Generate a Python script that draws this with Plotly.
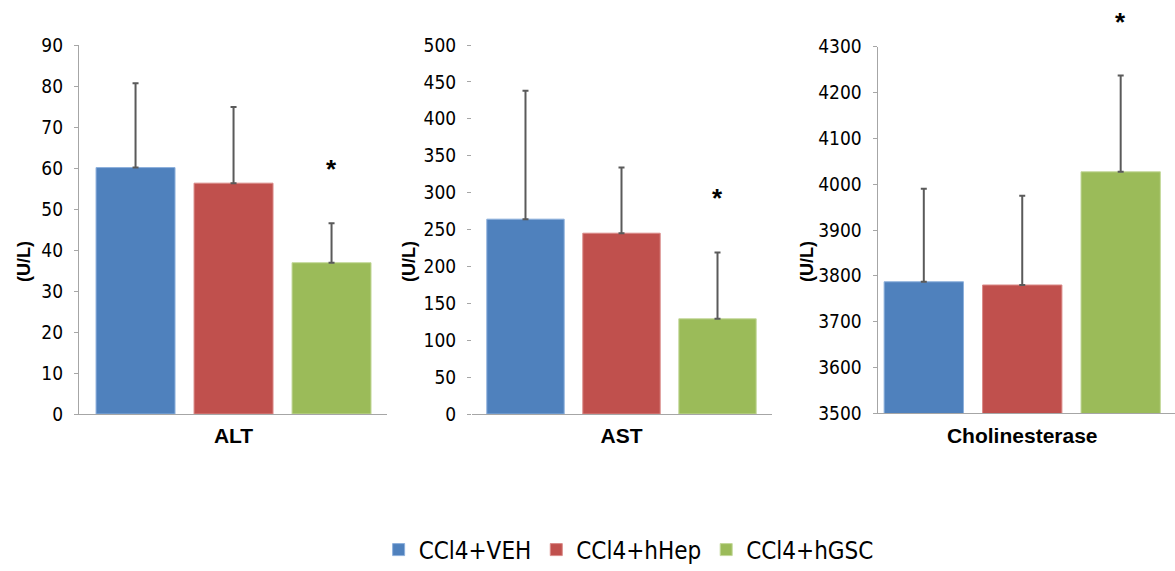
import plotly.graph_objects as go

# ---- data ----
groups = ["CCl4+VEH", "CCl4+hHep", "CCl4+hGSC"]
colors = ["#4F81BD", "#C0504D", "#9BBB59"]
edge_colors = ["#8DB0DC", "#DA8A88", "#C3D89A"]

panels = ["ALT", "AST", "Cholinesterase"]
alt_mean = [60.1, 56.3, 36.9]
alt_err = [20.6, 18.6, 9.6]
ast_mean = [264, 245, 129]
ast_err = [174, 89, 90]
che_mean = [3787, 3780, 4027]
che_err = [203, 195, 210]
significant = [[False, False, True], [False, False, True], [False, False, True]]

y_ranges = [[0, 90], [0, 500], [3500, 4300]]
y_dticks = [10, 50, 100]
y_title = "(U/L)"

means = [alt_mean, ast_mean, che_mean]
errs = [alt_err, ast_err, che_err]

W, H = 1175, 571
BARGAP = 0.045
GROUPGAP = 0.194

# pixel layout of the three panels
x_domains_px = [(79, 387), (472, 772), (877.7, 1175)]
y_domains_px = [(45, 414), (45, 414), (46.7, 413.3)]
x_ranges = [[-0.502, 0.4985], [-0.4957, 0.499], [-0.4674, 0.494]]
ytitle_x_px = [24, 409, 807]

NARROW = "Liberation Sans Narrow, DejaVu Sans Condensed, Arial Narrow, sans-serif"
ARIAL = "Liberation Sans, Arial, sans-serif"

fig = go.Figure()

for p, name in enumerate(panels):
    ax = "" if p == 0 else str(p + 1)
    for g in range(3):
        fig.add_trace(go.Bar(
            x=[name], y=[means[p][g]], name=groups[g],
            legendgroup=groups[g], showlegend=(p == 0),
            marker=dict(color=colors[g], line=dict(color=edge_colors[g], width=1)),
            error_y=dict(type="data", symmetric=False, array=[errs[p][g]],
                         arrayminus=[0], color="#5A5A5A", thickness=2, width=3),
            xaxis="x" + ax, yaxis="y" + ax,
        ))

layout = dict(
    width=W, height=H, barmode="group", bargap=BARGAP, bargroupgap=GROUPGAP,
    margin=dict(l=0, r=0, t=0, b=0, autoexpand=False),
    plot_bgcolor="white", paper_bgcolor="white",
    legend=dict(orientation="h", x=0.535, xanchor="center", y=1 - 550 / H,
                yanchor="middle", font=dict(family=NARROW, size=24, color="black"),
                itemwidth=30, traceorder="normal"),
    annotations=[],
)

slot = (1 - BARGAP) / 3
for p, name in enumerate(panels):
    ax = "" if p == 0 else str(p + 1)
    x0, x1 = x_domains_px[p]
    yt, yb = y_domains_px[p]
    layout["xaxis" + ax] = dict(
        domain=[x0 / W, min(x1 / W, 1)], anchor="y" + ax, range=x_ranges[p],
        showline=True, linecolor="#A6A6A6", linewidth=1.3,
        showgrid=False, zeroline=False, ticks="",
        tickfont=dict(family=ARIAL, size=21, color="black", weight="bold"),
        ticklabelstandoff=3,
    )
    layout["yaxis" + ax] = dict(
        domain=[1 - yb / H, 1 - yt / H], anchor="x" + ax, range=y_ranges[p],
        dtick=y_dticks[p], showline=(p != 1), linecolor="#A6A6A6", linewidth=1.3,
        showgrid=False, zeroline=False, ticks="outside", ticklen=4,
        tickcolor="#A6A6A6", tickwidth=1.3,
        tickfont=dict(family=NARROW, size=19, color="black"),
        ticklabelstandoff=7,
    )
    layout["annotations"].append(dict(
        text="<b>" + y_title + "</b>", textangle=-90, xref="paper", yref="paper",
        x=ytitle_x_px[p] / W, y=1 - 262 / H, xanchor="center", yanchor="middle",
        showarrow=False, font=dict(family=ARIAL, size=18, color="black"),
    ))
    for g in range(3):
        if significant[p][g]:
            layout["annotations"].append(dict(
                text="<b>*</b>", xref="x" + ax, yref="y" + ax,
                x=(g - 1) * slot, y=means[p][g] + errs[p][g], yshift=54,
                xanchor="center", yanchor="middle",
                showarrow=False, font=dict(family=ARIAL, size=26, color="black"),
            ))

fig.update_layout(**layout)
fig.write_html(
    "out.html",
    config={"displayModeBar": False},
    post_script="document.body.style.margin='0';document.body.style.overflow='hidden';",
)
